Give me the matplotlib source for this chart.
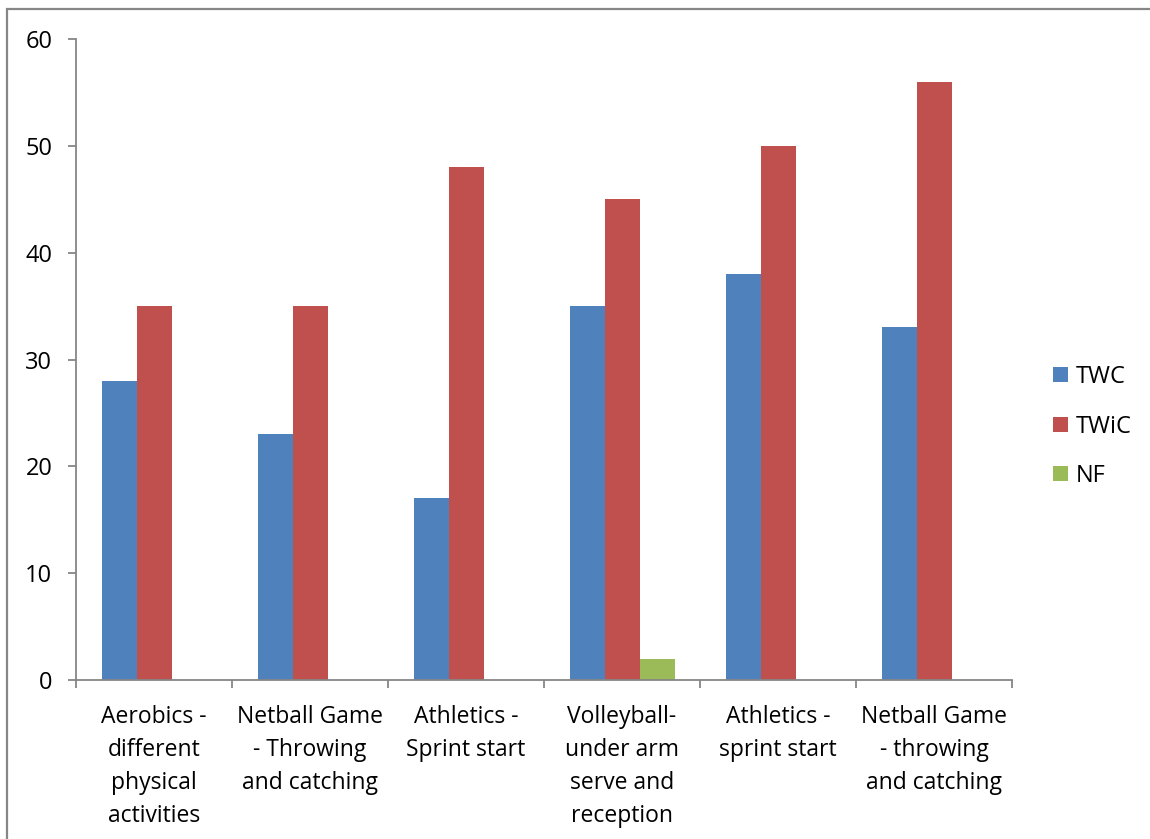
import matplotlib.pyplot as plt
import numpy as np
from matplotlib.patches import Rectangle

categories = [
    "Aerobics -\ndifferent\nphysical\nactivities",
    "Netball Game\n- Throwing\nand catching",
    "Athletics -\nSprint start",
    "Volleyball-\nunder arm\nserve and\nreception",
    "Athletics -\nsprint start",
    "Netball Game\n- throwing\nand catching",
]
twc = [28, 23, 17, 35, 38, 33]
twic = [35, 35, 48, 45, 50, 56]
nf = [0, 0, 0, 2, 0, 0]
series_names = ["TWC", "TWiC", "NF"]
colors = ["#4F81BD", "#C0504D", "#9BBB59"]
yticks = [0, 10, 20, 30, 40, 50, 60]

plt.rcParams['font.family'] = ['Open Sans', 'DejaVu Sans']

fig = plt.figure(figsize=(11.5, 8.39), dpi=100)
ax = fig.add_axes([76 / 1150, 1 - 680 / 839, (1012 - 76) / 1150, (680 - 39) / 839])

# outer chart frame (extends past the right and bottom edges)
fig.add_artist(Rectangle((7 / 1150, -0.1), 1.2, 1 - 9 / 839 + 0.1,
                         transform=fig.transFigure, fill=False,
                         edgecolor="#868686", linewidth=1.6))

x = np.arange(len(categories))
w = 35 / 156
for i, (vals, name, c) in enumerate(zip([twc, twic, nf], series_names, colors)):
    ax.bar(x + (i - 1) * w, vals, width=w, color=c, label=name, zorder=2)

ax.set_xlim(-0.5, len(categories) - 0.5)
ax.set_ylim(0, 60)
ax.set_yticks(yticks)
ax.set_yticklabels([str(v) for v in yticks], fontsize=17)
ax.set_xticks(np.arange(len(categories) + 1) - 0.5)
ax.set_xticklabels([])
ax.set_xticks(x, minor=True)
ax.set_xticklabels(categories, minor=True, fontsize=16.5, linespacing=1.5)
ax.tick_params(axis='x', which='minor', length=0, pad=18)
ax.tick_params(axis='x', which='major', length=6, color="#868686", width=1.3, direction='out')
ax.tick_params(axis='y', length=6, color="#868686", width=1.3, direction='out', pad=11)
for lab in ax.get_xticklabels(minor=True):
    lab.set_verticalalignment('top')
    lab.set_horizontalalignment('center')

for s in ["top", "right"]:
    ax.spines[s].set_visible(False)
for s in ["left", "bottom"]:
    ax.spines[s].set_color("#868686")
    ax.spines[s].set_linewidth(1.3)

ax.legend(loc='center left', bbox_to_anchor=(1.0215, 0.395), frameon=False,
          fontsize=17, handlelength=0.6, handleheight=0.6, handletextpad=0.35,
          labelspacing=1.08)

fig.savefig("out.png", dpi=100)
